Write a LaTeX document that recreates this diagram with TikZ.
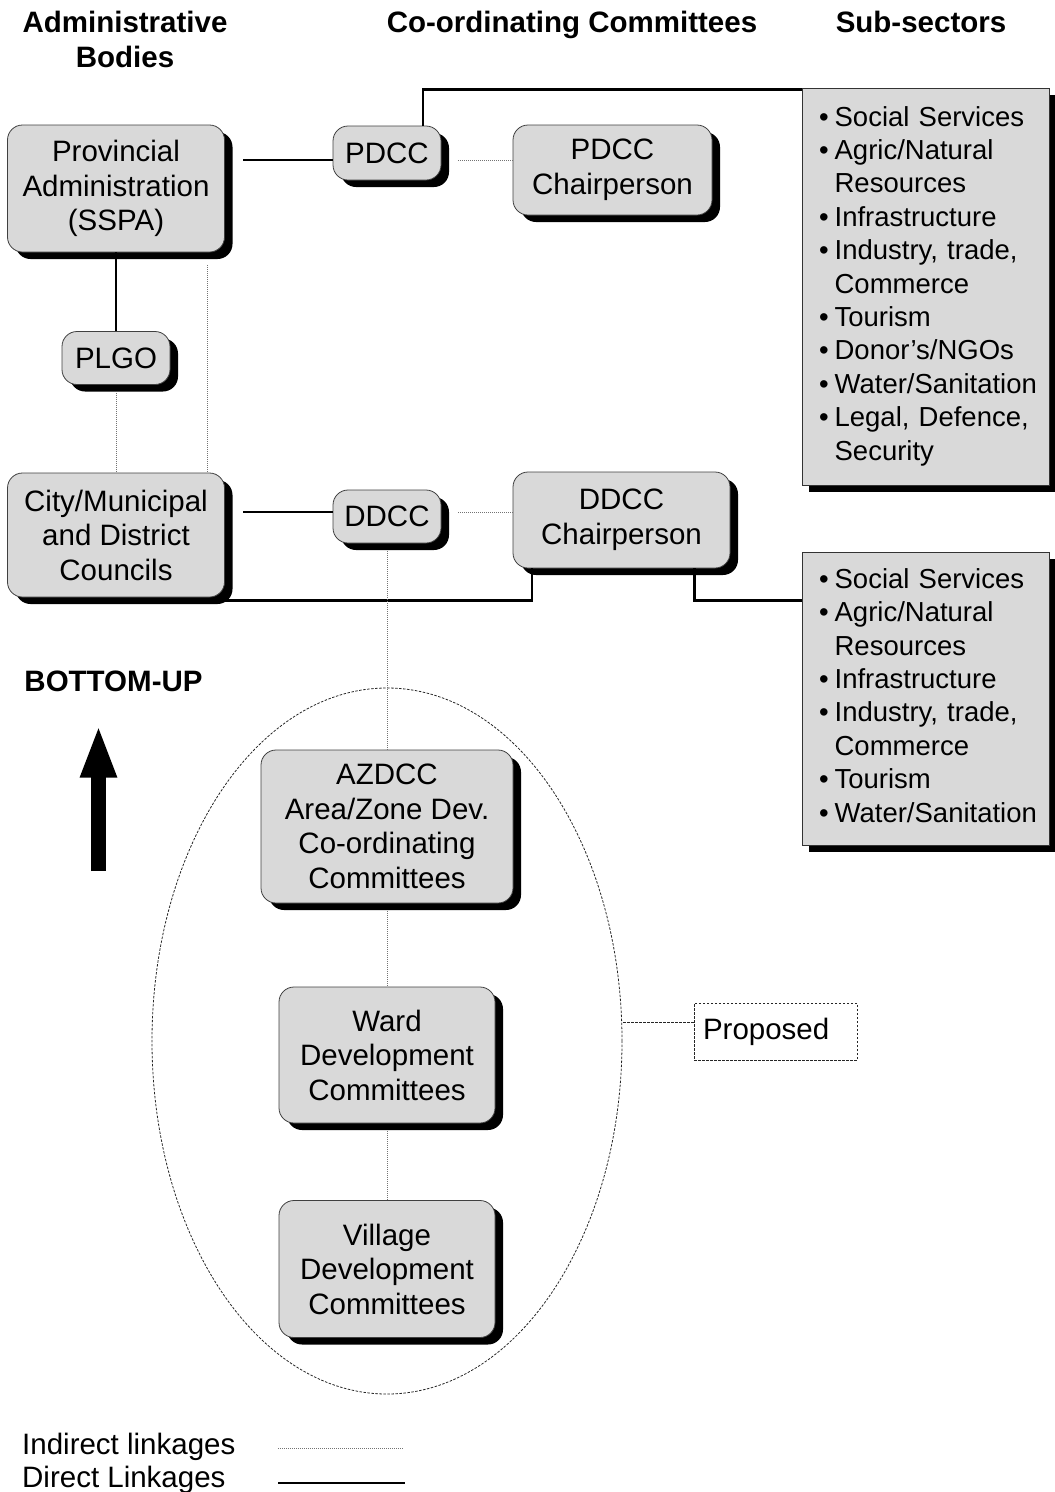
\documentclass[tikz,border=0pt]{standalone}
\usepackage{fontspec}
\setmainfont{Liberation Sans}
\usetikzlibrary{shapes.geometric,shadows,arrows.meta}

\tikzset{
  org/.style={draw=black!75, line width=0.8pt, fill=black!15, rounded corners=15pt,
    align=center, inner sep=0pt, font=\fontsize{29.5}{34.5}\selectfont,
    drop shadow={shadow xshift=8pt, shadow yshift=-7pt, fill=black, opacity=1}},
  sector/.style={draw=black!80, line width=1pt, fill=black!15, align=left,
    inner sep=0pt, text width=247pt, font=\fontsize{27.5}{33.4}\selectfont,
    drop shadow={shadow xshift=7pt, shadow yshift=-7pt, fill=black, opacity=1}},
  head/.style={font=\bfseries\fontsize{29.5}{35}\selectfont, align=center, inner sep=0pt},
  legend/.style={font=\fontsize{29.5}{34.5}\selectfont, inner sep=0pt},
  direct/.style={line width=2.2pt},
  indirect/.style={draw=black!55, line width=0.8pt, dash pattern=on 1pt off 1pt},
  fringe/.style={draw=black!85, line width=0.8pt, dash pattern=on 2.5pt off 1.5pt}
}
\newcommand{\sectorlist}[1]{\noindent\begin{tabular}{@{\hspace{17pt}}l@{\hspace{6pt}}l@{}}#1\end{tabular}}

\begin{document}
\begin{tikzpicture}[x=1pt,y=-1pt]
  \useasboundingbox (0,0) rectangle (1055,1492);

  \node[head] (hAdmin) at (125,39.5) {Administrative\\Bodies};
  \node[head, anchor=base] (hCoord) at (572,32.6) {Co-ordinating Committees};
  \node[head, anchor=base] (hSector) at (921,32.6) {Sub-sectors};

  \node[fringe, ellipse, minimum width=470, minimum height=706] (zone) at (387,1041) {};

  \node[org, minimum width=217, minimum height=127] (PA) at (116,188.5) {Provincial\\Administration\\(SSPA)};
  \node[org, minimum width=108, minimum height=54] (PDCC) at (387,153) {PDCC};
  \node[org, minimum width=199, minimum height=90] (PDCCchair) at (612.5,170) {PDCC\\Chairperson};
  \node[org, minimum width=108, minimum height=53] (PLGO) at (116,358) {PLGO};
  \node[org, minimum width=217, minimum height=124] (City) at (116,535) {City/Municipal\\and District\\Councils};
  \node[org, minimum width=108, minimum height=53] (DDCC) at (387,516.5) {DDCC};
  \node[org, minimum width=217, minimum height=96] (DDCCchair) at (621.5,520) {DDCC\\Chairperson};
  \node[org, minimum width=252, minimum height=153] (AZDCC) at (387,826.5) {AZDCC\\Area/Zone Dev.\\Co-ordinating\\Committees};
  \node[org, minimum width=216, minimum height=136] (Ward) at (387,1055) {Ward\\Development\\Committees};
  \node[org, minimum width=216, minimum height=137] (Village) at (387,1269) {Village\\Development\\Committees};

  \node[sector, minimum height=397] (sub1) at (925.5,286.5) {\sectorlist{
    \textbullet & Social Services\\
    \textbullet & Agric/Natural\\
                & Resources\\
    \textbullet & Infrastructure\\
    \textbullet & Industry, trade,\\
                & Commerce\\
    \textbullet & Tourism\\
    \textbullet & Donor’s/NGOs\\
    \textbullet & Water/Sanitation\\
    \textbullet & Legal, Defence,\\
                & Security}};
  \node[sector, minimum height=293] (sub2) at (925.5,698.5) {\sectorlist{
    \textbullet & Social Services\\
    \textbullet & Agric/Natural\\
                & Resources\\
    \textbullet & Infrastructure\\
    \textbullet & Industry, trade,\\
                & Commerce\\
    \textbullet & Tourism\\
    \textbullet & Water/Sanitation}};

  \node[fringe, legend, minimum width=163, minimum height=57, text width=145pt, align=left] (proposed) at (775.5,1031.5) {Proposed};

  \path ([yshift=-7pt]PDCC.center) coordinate (prow)
        ([yshift=4.5pt]DDCC.center) coordinate (drow)
        ([yshift=-3pt]City.south east) coordinate (crow)
        ([yshift=9pt]proposed.west) coordinate (tag);

  \draw[direct] (PA) -- (PLGO);
  \draw[direct, shorten >=18pt] (PDCC.west |- prow) -- (PA.east |- prow);
  \draw[direct, shorten >=18pt] (DDCC.west |- drow) -- (City.east |- drow);
  \draw[direct] ([xshift=36pt]PDCC.north) |- ([yshift=-2pt]sub1.north west);
  \draw[direct] ([xshift=19pt]DDCCchair.south west) |- (crow);
  \draw[direct] ([xshift=-36pt]DDCCchair.south east) |- (sub2.west |- crow);

  \foreach \from/\to in {PLGO/City,DDCC/AZDCC,AZDCC/Ward,Ward/Village}
    \draw[indirect, shorten <=8pt] (\from) -- (\to);
  \draw[indirect, shorten <=17pt] (PDCC.east |- prow) -- (PDCCchair.west |- prow);
  \draw[indirect, shorten <=17pt] (DDCC.east |- drow) -- (DDCCchair.west |- drow);
  \draw[indirect, shorten <=13pt] ([xshift=91pt]PA.south) -- ([xshift=91pt]City.north);
  \draw[fringe] (tag) -- (tag -| zone.east);

  \node[head, anchor=base] (bottomup) at (113.5,691.5) {BOTTOM-UP};
  \coordinate (upfoot) at (98.5,871);
  \coordinate (uptip) at (98.5,724.5);
  \draw[line width=15pt, -{Triangle[length=53pt,width=33pt]}] (upfoot) -- (uptip);

  \node[legend, anchor=base west] (lblIndirect) at (22,1454) {Indirect linkages};
  \node[legend, anchor=base west] (lblDirect) at (22,1487) {Direct Linkages};
  \coordinate (ind1) at (278,1448);
  \coordinate (ind2) at (404,1448);
  \coordinate (dir1) at (278,1483);
  \coordinate (dir2) at (405,1483);
  \draw[indirect] (ind1) -- (ind2);
  \draw[direct] (dir1) -- (dir2);
\end{tikzpicture}
\end{document}
